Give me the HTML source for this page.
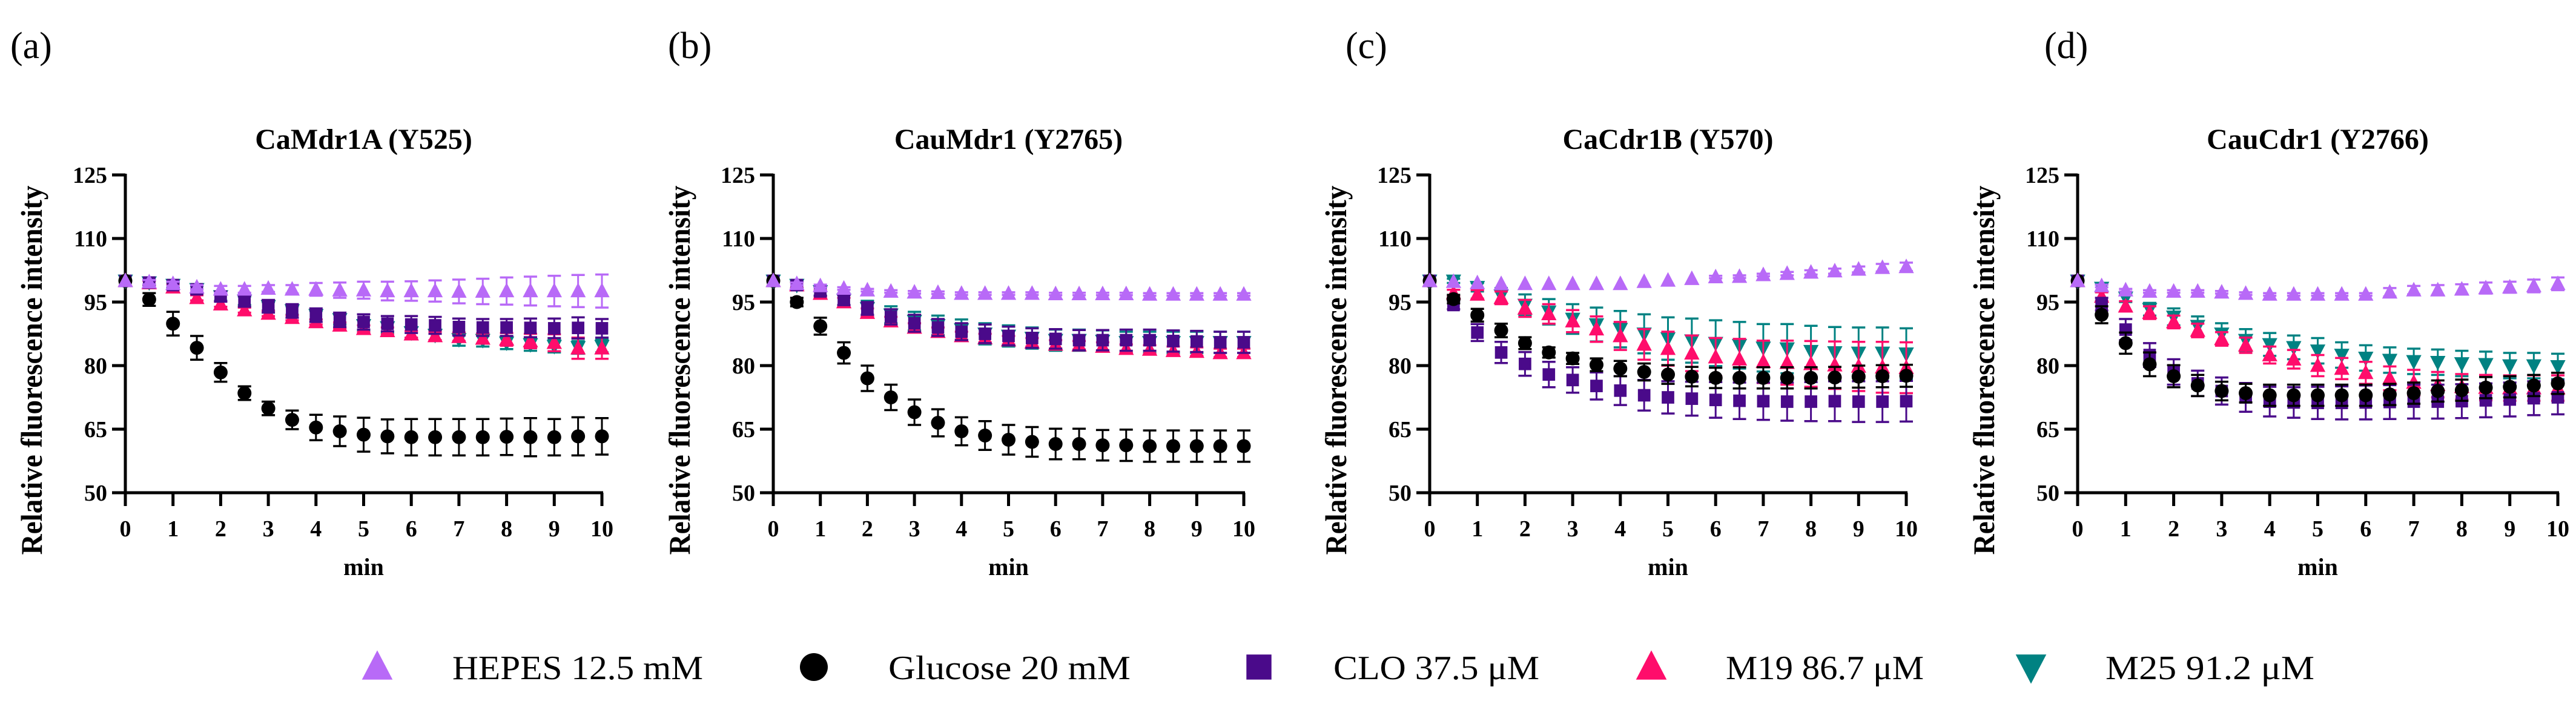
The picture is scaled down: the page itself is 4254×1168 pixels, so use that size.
<!DOCTYPE html>
<html><head><meta charset="utf-8"><style>
html,body{margin:0;padding:0;background:#fff;}
svg{display:block;}
text{font-family:"Liberation Serif",serif;}
</style></head><body>
<svg id="fig" width="4254" height="1168" viewBox="0 0 4254 1168" xmlns="http://www.w3.org/2000/svg"></svg>
<script>
const times=[0,0.5,1,1.5,2,2.5,3,3.5,4,4.5,5,5.5,6,6.5,7,7.5,8,8.5,9,9.5,10];
const panelLetters=["(a)","(b)","(c)","(d)"];
const panelTitles=["CaMdr1A (Y525)","CauMdr1 (Y2765)","CaCdr1B (Y570)","CauCdr1 (Y2766)"];
const yTicks=[50,65,80,95,110,125];
const xTicks=[0,1,2,3,4,5,6,7,8,9,10];
const seriesNames=["HEPES 12.5 mM","Glucose 20 mM","CLO 37.5 \u03bcM","M19 86.7 \u03bcM","M25 91.2 \u03bcM"];
// Panel a
const aHEPES=[100,99.7,99.3,98.5,98,98,98.2,98,98,97.8,97.8,97.6,97.6,97.6,97.5,97.5,97.6,97.6,97.6,97.6,97.6];
const aHEPESerr=[0,0.5,0.5,0.5,0.8,0.8,0.8,1,1.5,1.8,2,2.2,2.3,2.5,2.8,3,3.2,3.4,3.6,3.8,3.9];
const aGlc=[100,95.6,89.9,84.2,78.4,73.5,69.9,67.2,65.4,64.5,63.7,63.3,63.1,63.1,63.1,63.1,63.2,63.1,63.1,63.3,63.3];
const aGlcErr=[0,1.5,2.8,2.8,2.2,1.6,1.6,2.2,3,3.5,4,4,4.3,4.3,4.3,4.3,4.3,4.5,4.3,4.5,4.3];
const aCLO=[100,99.6,99,98,96.3,95.2,94,92.9,91.9,90.8,90.3,89.9,89.7,89.5,89.1,89,89,88.9,88.8,88.9,88.8];
const aCLOerr=[0,0.6,0.8,1,1.2,1.3,1.5,1.6,1.6,1.7,1.8,1.8,2,2,2,2,2,2.2,2.3,2.5,2.2];
const aM19=[100,99.5,98.5,96,94.5,93.1,92.3,91.3,90.3,89.5,88.7,88.2,87.4,87,86.8,86.4,86.2,85.8,85.4,84.1,84.1];
const aM19err=[0,0.5,0.6,0.6,0.6,0.6,0.6,0.6,0.6,0.7,0.8,0.8,0.8,1,1,1.2,1.5,1.7,2,2.5,2.5];
const aM25=[100,99.6,99,98,96.3,95.3,94,93,91.9,90.9,89.5,89,87.8,87.2,86.2,86,85.4,85,84.6,84.3,84.6];
const aM25err=[0,0.5,0.6,0.8,1,1,1,1,1,1.2,1.2,1.2,1.3,1.3,1.5,1.5,1.5,1.5,1.5,1.5,1.5];
// Panel b
const bHEPES=[100,99.3,98.8,98.2,97.8,97.5,97.3,97.2,97,97,97,97,96.9,96.9,96.9,96.9,96.8,96.8,96.8,96.8,96.8];
const bHEPESerr=[0,0.3,0.3,0.3,0.3,0.3,0.3,0.3,0.3,0.3,0.3,0.3,0.3,0.3,0.3,0.3,0.3,0.3,0.3,0.3,0.3];
const bGlc=[100,95,89.3,83,77,72.5,69,66.5,64.5,63.5,62.5,62,61.5,61.5,61.2,61.2,61,61,61,61,61];
const bGlcErr=[0,1,2,2.5,3,3,3,3.2,3.3,3.4,3.5,3.5,3.6,3.6,3.6,3.7,3.7,3.7,3.7,3.7,3.7];
const bCLO=[100,99,97.5,95.5,93.5,91.5,90,89,88,87.5,87,86.5,86.3,86,86,86,86,85.8,85.7,85.5,85.5];
const bCLOerr=[0,0.8,1,1.2,1.5,1.8,2,2,2,2.2,2.2,2.3,2.3,2.4,2.4,2.5,2.5,2.5,2.5,2.5,2.5];
const bM19=[100,99,97,95,92.5,90.5,89,88,87,86.5,86,85.5,85,84.8,84.5,84,83.8,83.5,83.3,83,83];
const bM19err=[0,0.6,0.8,1,1,1,1,1,1,1,1,1,1,1,1,1,1,1,1,1,1];
const bM25=[100,99,97.5,95.5,93.5,92,90.5,89.5,88.5,87.5,87,86.5,86,86,85.8,85.5,85.5,85.5,85.5,85.5,85.5];
const bM25err=[0,0.8,1,1.5,1.8,2,2.2,2.3,2.4,2.5,2.5,2.5,2.5,2.5,2.5,2.5,2.5,2.5,2.5,2.5,2.5];
// Panel c
const cHEPES=[100,99.8,99.5,99.3,99.3,99.3,99.3,99.3,99.3,99.8,100.1,100.5,100.9,101,101.4,101.7,102,102.3,102.7,103.1,103.3];
const cHEPESerr=[0,0.2,0.2,0.2,0.2,0.2,0.2,0.2,0.2,0.2,0.2,0.2,0.3,0.3,0.3,0.4,0.5,0.6,0.7,0.9,1];
const cGlc=[100,95.7,91.9,88.3,85.3,83.1,81.7,80.2,79.3,78.5,77.9,77.4,77.1,77.1,77.1,77.1,77.1,77.2,77.4,77.5,77.6];
const cGlcErr=[0,1,1.5,1.6,1.4,1.2,1.3,1.5,1.8,2,2.2,2.3,2.4,2.5,2.5,2.5,2.5,2.5,2.6,2.6,2.6];
const cCLO=[100,94.3,87.8,83.1,80.4,77.9,76.6,75.2,74.1,73,72.5,72.2,71.9,71.7,71.6,71.5,71.5,71.6,71.5,71.5,71.6];
const cCLOerr=[0,1,2,2.5,2.8,3,3,3.2,3.4,3.6,3.8,4,4.2,4.3,4.4,4.5,4.6,4.7,4.8,4.8,4.8];
const cM19=[100,97.1,96.8,96,93.5,92.2,90.5,88.6,87,85,84,82.9,82,81.5,80.9,80.7,80.4,80.1,79.8,79.6,79.5];
const cM19err=[0,0.8,1,1.5,2,2.3,2.6,3,3.3,3.6,4,4.2,4.5,4.8,5,5.2,5.4,5.6,5.8,6,6];
const cM25=[100,100,98.5,96.5,94.3,92.7,91,89.7,88.6,87.5,86.4,85.9,85.3,84.8,84.2,84,83.4,83.1,83,83,82.8];
const cM25err=[0,0.5,1,1.8,2.5,3,3.5,4,4.3,4.6,5,5.2,5.4,5.5,5.6,5.8,6,6,6,6,6];
// Panel d
const dHEPES=[100,98.8,97.8,97.5,97.5,97.5,97.3,97,96.8,96.8,96.8,96.8,96.8,97.3,97.8,97.8,98,98.3,98.5,98.8,99.3];
const dHEPESerr=[0,0.3,0.3,0.3,0.3,0.3,0.3,0.3,0.3,0.3,0.3,0.3,0.3,1,1,1.2,1.2,1.3,1.3,1.5,1.5];
const dGlc=[100,92,85.3,80.3,77.5,75.3,74,73.5,73,73,73,73,73,73.2,73.5,74,74.2,74.8,75,75.3,75.8];
const dGlcErr=[0,2,2.5,2.8,2.6,2.5,2.2,2.2,2.5,2.5,2.5,2.5,2.5,2.5,2.5,2.5,2.5,2.5,2.5,2.5,2.5];
const dCLO=[100,94.5,88.5,82.5,78.5,75.8,74,72.5,71.5,71.3,71.2,71.2,71.3,71.4,71.5,71.5,71.6,71.8,72,72.3,72.5];
const dCLOerr=[0,1.5,2.5,2.8,3,3,3.2,3.4,3.5,3.6,3.8,3.9,4,4,4,4,4,4,4,4,4];
const dM19=[100,96.3,94,92.5,90.3,88.3,86.3,84.8,82.5,81.5,80,79.3,78.3,77,76,75.5,75,74.8,74.7,74.7,74.7];
const dM19err=[0,1,1.2,1.5,1.5,1.6,1.6,1.8,2,2.2,2.5,2.5,2.6,2.8,3,3,3,3,3,3,3];
const dM25=[100,98.3,96,93.3,91.5,89.3,87.5,86,85,84.3,83.5,82.5,81.8,81.3,81,80.8,80.5,80.3,80,80,79.8];
const dM25err=[0,0.8,1,1.5,2,2.3,2.5,2.6,2.7,2.8,3,3,3,3,3,3,3,3,3,3,3];

const NS="http://www.w3.org/2000/svg";
const svg=document.getElementById("fig");
function mk(tag,attrs,parent){const e=document.createElementNS(NS,tag);for(const k in attrs)e.setAttribute(k,attrs[k]);(parent||svg).appendChild(e);return e;}

const colors=["#b86af7","#000000","#4a0a8a","#ff0d6b","#008282"];
const shapes=["tri","circle","square","tri","tridown"];
function marker(g,shape,cx,cy,color,s){
  let e;
  if(shape==="circle") e=mk("circle",{cx:cx,cy:cy,r:s*0.5,fill:color},g);
  else if(shape==="square") e=mk("rect",{x:cx-s*0.45,y:cy-s*0.45,width:s*0.9,height:s*0.9,fill:color},g);
  else if(shape==="tri") e=mk("polygon",{points:`${cx},${cy-s*0.6} ${cx-s*0.55},${cy+s*0.45} ${cx+s*0.55},${cy+s*0.45}`,fill:color},g);
  else e=mk("polygon",{points:`${cx},${cy+s*0.6} ${cx-s*0.55},${cy-s*0.45} ${cx+s*0.55},${cy-s*0.45}`,fill:color},g);
  return e;
}

const panels=[
  {x0:207,unit:78.7,letterX:17,series:[[aHEPES,aHEPESerr],[aGlc,aGlcErr],[aCLO,aCLOerr],[aM19,aM19err],[aM25,aM25err]]},
  {x0:1277,unit:77.7,letterX:1103,series:[[bHEPES,bHEPESerr],[bGlc,bGlcErr],[bCLO,bCLOerr],[bM19,bM19err],[bM25,bM25err]]},
  {x0:2361,unit:78.7,letterX:2222,series:[[cHEPES,cHEPESerr],[cGlc,cGlcErr],[cCLO,cCLOerr],[cM19,cM19err],[cM25,cM25err]]},
  {x0:3431,unit:79.3,letterX:3376,series:[[dHEPES,dHEPESerr],[dGlc,dGlcErr],[dCLO,dCLOerr],[dM19,dM19err],[dM25,dM25err]]}
];
const y50=814, pxPerUnit=7.0;
function yS(v){return y50-(v-50)*pxPerUnit;}
const drawOrder=[4,3,2,1,0];

panels.forEach((p,pi)=>{
  const xS=t=>p.x0+t*p.unit;
  const g=mk("g",{});
  
  
  const lt=mk("text",{x:p.letterX,y:96,"font-size":62},g);
  lt.textContent=panelLetters[pi];
  
  
  const cx=xS(5);
  const tt=mk("text",{x:cx,y:246,"font-size":48,"font-weight":"bold","text-anchor":"middle"},g);
  tt.textContent=panelTitles[pi];
  
  
  const yt=mk("text",{x:0,y:0,"font-size":50,"font-weight":"bold","text-anchor":"middle",textLength:610,lengthAdjust:"spacingAndGlyphs",transform:`translate(${p.x0-138},${(yS(125)+y50)/2+60}) rotate(-90)`},g);
  yt.textContent="Relative fluorescence intensity";
  
  
  const xt=mk("text",{x:cx,y:950,"font-size":40,"font-weight":"bold","text-anchor":"middle"},g);
  xt.textContent="min";
  
  
  const ya=mk("line",{x1:p.x0,y1:yS(125)-2,x2:p.x0,y2:y50+22,stroke:"#000","stroke-width":5},g);
  
  
  const xa=mk("line",{x1:p.x0-22,y1:y50,x2:xS(10)+2,y2:y50,stroke:"#000","stroke-width":5},g);
  
  
  yTicks.forEach(v=>{
    mk("line",{x1:p.x0-22,y1:yS(v),x2:p.x0,y2:yS(v),stroke:"#000","stroke-width":5},g);
    const t=mk("text",{x:p.x0-30,y:yS(v)+13,"font-size":38,"font-weight":"bold","text-anchor":"end"},g);
    t.textContent=v;
    
    
  });
  xTicks.forEach(v=>{
    mk("line",{x1:xS(v),y1:y50,x2:xS(v),y2:y50+22,stroke:"#000","stroke-width":5},g);
    const t=mk("text",{x:xS(v),y:886,"font-size":38,"font-weight":"bold","text-anchor":"middle"},g);
    t.textContent=v;
    
    
  });
  drawOrder.forEach(si=>{
    const [vals,errs]=p.series[si];
    const sg=mk("g",{},g);
    
    
    vals.forEach((v,i)=>{
      const x=xS(times[i]), y=yS(v), e=errs[i]*pxPerUnit;
      if(e>2){
        mk("line",{x1:x,y1:y-e,x2:x,y2:y+e,stroke:colors[si],"stroke-width":3},sg);
        mk("line",{x1:x-11,y1:y-e,x2:x+11,y2:y-e,stroke:colors[si],"stroke-width":3.5},sg);
        mk("line",{x1:x-11,y1:y+e,x2:x+11,y2:y+e,stroke:colors[si],"stroke-width":3.5},sg);
      }
      const m=marker(sg,shapes[si],x,y,colors[si],23);
      
      
    });
  });
});

const legMarkX=[623,1344,2079,2727,3354];
const legTextX=[747,1467,2202,2850,3477];
const legTextW=[414,400,340,327,345];
const lg=mk("g",{});


seriesNames.forEach((n,i)=>{
  const m=marker(lg,shapes[i],legMarkX[i],1102,colors[i],46);
  
  
  const t=mk("text",{x:legTextX[i],y:1122,"font-size":56,textLength:legTextW[i],lengthAdjust:"spacingAndGlyphs"},lg);
  t.textContent=n;
  
  
});
</script>
</body></html>
